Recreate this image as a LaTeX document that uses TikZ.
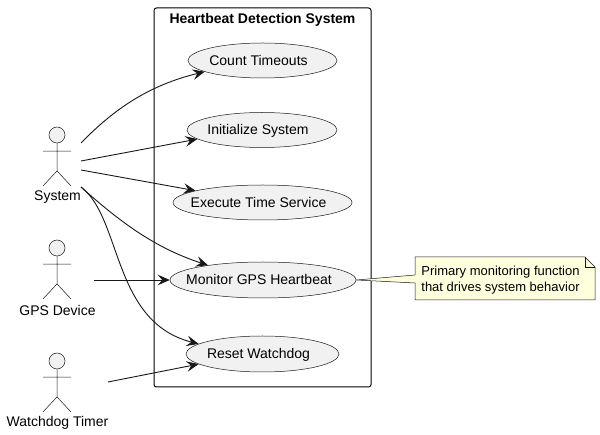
\documentclass[tikz,border=0pt]{standalone}
\usepackage{fontspec}
\setmainfont{Liberation Sans}
\usetikzlibrary{shapes.geometric,arrows.meta}
\definecolor{edgeink}{HTML}{181818}
\definecolor{ucfill}{HTML}{F1F1F1}
\definecolor{notefill}{HTML}{FEFFDD}
\tikzset{
  px/.style={x=1pt,y=-1pt},
  usecase/.style={ellipse,draw=edgeink,fill=ucfill,line width=0.5pt,inner sep=0pt,font=\fontsize{14}{16}\selectfont,text height=10pt,text depth=0pt},
  sysbox/.style={draw=black,line width=1pt,rounded corners=2.5pt},
  flow/.style={draw=edgeink,line width=0.9pt,-{Stealth[length=12pt,width=10.5pt,inset=4.5pt]}},
  stick/.style={draw=edgeink,line width=0.5pt},
  head/.style={circle,draw=edgeink,fill=ucfill,line width=0.5pt,minimum size=16pt,inner sep=0pt},
  label/.style={inner sep=0pt,font=\fontsize{14}{16}\selectfont},
  notebody/.style={draw=edgeink,fill=notefill,line width=0.5pt,line join=miter},
}
\newcommand{\uctext}[1]{\makebox[0pt]{#1\hspace{8pt}}}
\newcommand{\stickman}[4]{%
  \node[head] (#1) at (57,#2) {};
  \draw[stick] (#1.south) -- ++(0,27.7) coordinate (#1hip)
    (#1hip) -- ++(-14,15) (#1hip) -- ++(14,15)
    (#1.south) ++(-14,8) -- ++(28,0);
  \node[label] (#1name) at (57.5,#3) {#4};
}
\begin{document}
\begin{tikzpicture}[px]
\useasboundingbox (0,0) rectangle (600,435);
\draw[sysbox] (154,8) rectangle (371,387);
\node[inner sep=0pt,font=\fontsize{14}{16}\selectfont\bfseries] (title) at (262.5,20) {Heartbeat Detection System};
\node[usecase,minimum width=149pt,minimum height=35pt] (count) at (262.5,60.5) {\uctext{Count Timeouts}};
\node[usecase,minimum width=150pt,minimum height=35pt] (init) at (262,130) {\uctext{Initialize System}};
\node[usecase,minimum width=179pt,minimum height=35pt] (exec) at (262.5,202.5) {\uctext{Execute Time Service}};
\node[usecase,minimum width=186pt,minimum height=36pt] (mon) at (263,280) {\uctext{Monitor GPS Heartbeat}};
\node[usecase,minimum width=153pt,minimum height=36pt] (reset) at (262.5,354) {\uctext{Reset Watchdog}};
\stickman{sys}{135}{197}{System}
\stickman{gps}{248}{310}{GPS Device}
\stickman{wd}{361}{423}{Watchdog Timer}
\coordinate (s1) at (81,143);
\coordinate (s2) at (81,161);
\coordinate (s3) at (81,170);
\coordinate (s4) at (81,187);
\coordinate (g1) at (94,280);
\coordinate (w1) at (108,382);
\draw[flow] (s1) .. controls (115,108) and (150,85) .. (count.191);
\draw[flow] (s2) -- (init.188.5);
\draw[flow] (s3) -- (exec.170);
\draw[flow] (s4) .. controls (120,222) and (155,248) .. (mon.165);
\draw[flow] (s4) .. controls (122,218) and (112,322) .. (reset.171);
\draw[flow] (g1) -- (mon.west);
\draw[flow] (w1) -- (reset.189);
\coordinate (nt) at (415,257);
\draw[notebody] (mon.east) -- (415,275) -- (nt) -- (585,257) -- (595,267) -- (595,300) -- (415,300) -- (415,283) -- cycle;
\draw[notebody,fill=none] (585,257) -- (585,267) -- (595,267);
\node[inner sep=0pt,align=left,anchor=center,font=\fontsize{13}{16}\selectfont] (note) at (500.5,280) {Primary monitoring function\\that drives system behavior};
\end{tikzpicture}
\end{document}
